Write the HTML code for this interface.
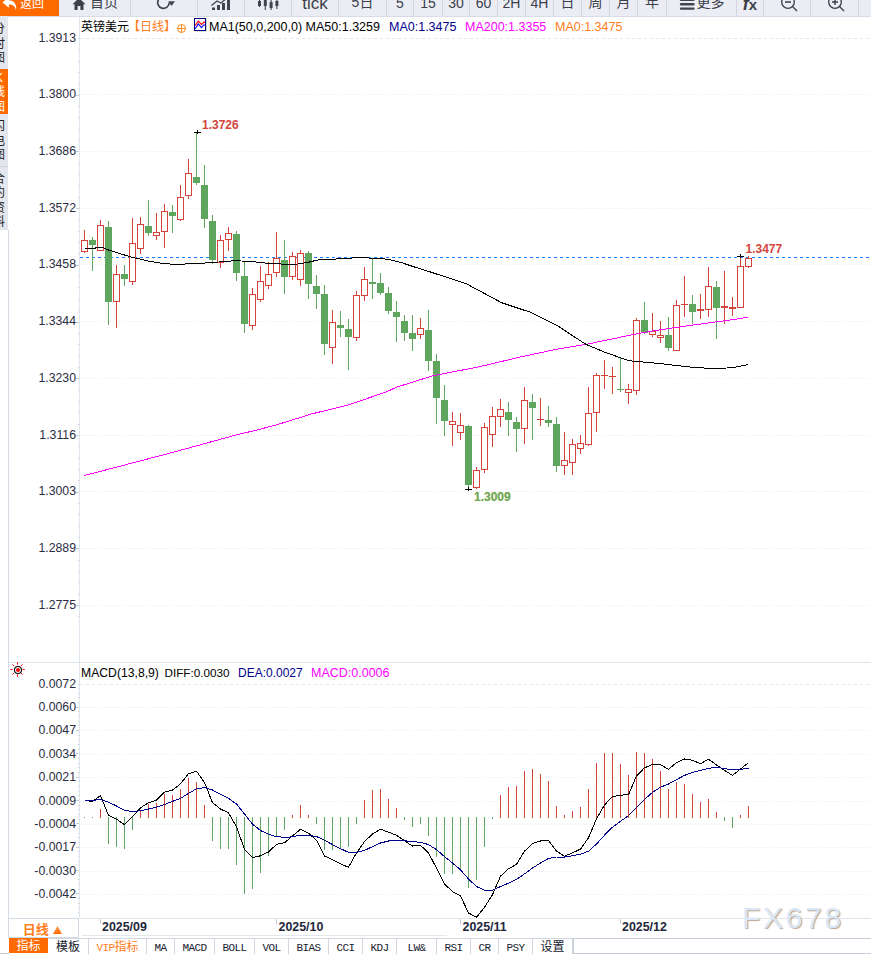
<!DOCTYPE html>
<html lang="zh-CN"><head><meta charset="utf-8"><title>英镑美元 日线</title>
<style>
html,body{margin:0;padding:0;background:#fff}
body{width:871px;height:954px;position:relative;overflow:hidden;font-family:"Liberation Sans","Noto Sans CJK SC",sans-serif;color:#222}
#tb{position:absolute;left:0;top:-14px;width:871px;height:31px;background:#ecedf4;border-bottom:1px solid #d9dce6;box-sizing:border-box}
.tbtn{position:absolute;top:0;height:30px;box-sizing:border-box;border-right:1px solid #d3d6e0;display:flex;align-items:center;justify-content:center;font-size:14px;color:#3a3f4a;white-space:nowrap}
.tbtn .ic{margin-right:4px;flex:none;position:relative;top:2.5px}
.tbtn .la{position:relative;top:1.5px}
.tbtn .big{font-size:17px;position:relative;top:3px}
.tbtn.back{background:#ff6a00;color:#fff;border-right:none;font-size:12px;justify-content:flex-start;padding-left:2px}
#side{position:absolute;left:0;top:16px;width:8.2px;height:214px;background:#e4e6ee;overflow:hidden}
#side div{position:absolute;left:-7px;width:12px;font-size:12px;line-height:14.5px;color:#222;text-align:center;word-break:break-all}
#sideline{position:absolute;left:8px;top:230px;width:1px;height:708px;background:#d5dbe4}
svg#ch{position:absolute;left:0;top:0}
.yl{position:absolute;left:0;width:76px;text-align:right;font-size:12.3px;line-height:14px;color:#2b2d42}
.ttl{position:absolute;white-space:nowrap;font-size:12.5px;line-height:16px;color:#000}
.date{position:absolute;top:920px;font-size:12.4px;line-height:14px;font-weight:bold;color:#23263a}
.pl{position:absolute;font-size:12px;line-height:14px;font-weight:bold}
#period{position:absolute;left:8px;top:918px;width:71px;height:20px;box-sizing:border-box;border:1px solid #d3dae4;font-size:13px;font-weight:bold;color:#ff7d1a;text-align:center;line-height:22px;padding-right:2px}
#tabs{position:absolute;left:0;top:938px;width:871px;height:17px}
.tab{position:absolute;top:0;height:17px;box-sizing:border-box;border-top:1px solid #cfd6e0;border-right:1px solid #cfd6e0;text-align:center;font-size:12px;line-height:16px;color:#16202e;font-family:"Liberation Serif","Noto Sans CJK SC",serif;white-space:nowrap}
.mono{font-family:"Liberation Mono",monospace;font-size:11px;letter-spacing:-0.6px}
#wm{position:absolute;left:742px;top:900px;font-size:30px;line-height:36px;letter-spacing:2.7px;color:#dae7f7;text-shadow:1px 1px 1px rgba(150,115,90,.65);white-space:nowrap}
</style></head><body>
<svg id="ch" width="871" height="954" viewBox="0 0 871 954" shape-rendering="crispEdges">
<line x1="80" x2="871" y1="38.5" y2="38.5" stroke="#e3e7ec" stroke-dasharray="3 3"/>
<line x1="80" x2="871" y1="94.5" y2="94.5" stroke="#e5eaf0" stroke-dasharray="1 2"/>
<line x1="80" x2="871" y1="151.5" y2="151.5" stroke="#e5eaf0" stroke-dasharray="1 2"/>
<line x1="80" x2="871" y1="208.5" y2="208.5" stroke="#e5eaf0" stroke-dasharray="1 2"/>
<line x1="80" x2="871" y1="264.5" y2="264.5" stroke="#e5eaf0" stroke-dasharray="1 2"/>
<line x1="80" x2="871" y1="321.5" y2="321.5" stroke="#e5eaf0" stroke-dasharray="1 2"/>
<line x1="80" x2="871" y1="378.5" y2="378.5" stroke="#e5eaf0" stroke-dasharray="1 2"/>
<line x1="80" x2="871" y1="435.5" y2="435.5" stroke="#e5eaf0" stroke-dasharray="1 2"/>
<line x1="80" x2="871" y1="491.5" y2="491.5" stroke="#e5eaf0" stroke-dasharray="1 2"/>
<line x1="80" x2="871" y1="548.5" y2="548.5" stroke="#e5eaf0" stroke-dasharray="1 2"/>
<line x1="80" x2="871" y1="605.5" y2="605.5" stroke="#e5eaf0" stroke-dasharray="1 2"/>
<line x1="80" x2="871" y1="684.5" y2="684.5" stroke="#e3e7ec" stroke-dasharray="3 3"/>
<line x1="80" x2="871" y1="707.5" y2="707.5" stroke="#e5eaf0" stroke-dasharray="1 2"/>
<line x1="80" x2="871" y1="730.5" y2="730.5" stroke="#e5eaf0" stroke-dasharray="1 2"/>
<line x1="80" x2="871" y1="754.5" y2="754.5" stroke="#e5eaf0" stroke-dasharray="1 2"/>
<line x1="80" x2="871" y1="777.5" y2="777.5" stroke="#e5eaf0" stroke-dasharray="1 2"/>
<line x1="80" x2="871" y1="801.5" y2="801.5" stroke="#e5eaf0" stroke-dasharray="1 2"/>
<line x1="80" x2="871" y1="824.5" y2="824.5" stroke="#e5eaf0" stroke-dasharray="1 2"/>
<line x1="80" x2="871" y1="847.5" y2="847.5" stroke="#e5eaf0" stroke-dasharray="1 2"/>
<line x1="80" x2="871" y1="871.5" y2="871.5" stroke="#e5eaf0" stroke-dasharray="1 2"/>
<line x1="80" x2="871" y1="894.5" y2="894.5" stroke="#e5eaf0" stroke-dasharray="1 2"/>
<line x1="79.5" x2="79.5" y1="16" y2="918" stroke="#dfe5ec"/>
<line x1="78" x2="79" y1="38.5" y2="38.5" stroke="#c3ceda"/>
<line x1="78" x2="79" y1="49.5" y2="49.5" stroke="#c3ceda"/>
<line x1="78" x2="79" y1="61.5" y2="61.5" stroke="#c3ceda"/>
<line x1="78" x2="79" y1="72.5" y2="72.5" stroke="#c3ceda"/>
<line x1="78" x2="79" y1="83.5" y2="83.5" stroke="#c3ceda"/>
<line x1="76" x2="79" y1="95.5" y2="95.5" stroke="#c3ceda"/>
<line x1="78" x2="79" y1="106.5" y2="106.5" stroke="#c3ceda"/>
<line x1="78" x2="79" y1="117.5" y2="117.5" stroke="#c3ceda"/>
<line x1="78" x2="79" y1="129.5" y2="129.5" stroke="#c3ceda"/>
<line x1="78" x2="79" y1="140.5" y2="140.5" stroke="#c3ceda"/>
<line x1="76" x2="79" y1="151.5" y2="151.5" stroke="#c3ceda"/>
<line x1="78" x2="79" y1="163.5" y2="163.5" stroke="#c3ceda"/>
<line x1="78" x2="79" y1="174.5" y2="174.5" stroke="#c3ceda"/>
<line x1="78" x2="79" y1="185.5" y2="185.5" stroke="#c3ceda"/>
<line x1="78" x2="79" y1="197.5" y2="197.5" stroke="#c3ceda"/>
<line x1="76" x2="79" y1="208.5" y2="208.5" stroke="#c3ceda"/>
<line x1="78" x2="79" y1="219.5" y2="219.5" stroke="#c3ceda"/>
<line x1="78" x2="79" y1="231.5" y2="231.5" stroke="#c3ceda"/>
<line x1="78" x2="79" y1="242.5" y2="242.5" stroke="#c3ceda"/>
<line x1="78" x2="79" y1="253.5" y2="253.5" stroke="#c3ceda"/>
<line x1="76" x2="79" y1="265.5" y2="265.5" stroke="#c3ceda"/>
<line x1="78" x2="79" y1="276.5" y2="276.5" stroke="#c3ceda"/>
<line x1="78" x2="79" y1="287.5" y2="287.5" stroke="#c3ceda"/>
<line x1="78" x2="79" y1="299.5" y2="299.5" stroke="#c3ceda"/>
<line x1="78" x2="79" y1="310.5" y2="310.5" stroke="#c3ceda"/>
<line x1="76" x2="79" y1="322.5" y2="322.5" stroke="#c3ceda"/>
<line x1="78" x2="79" y1="333.5" y2="333.5" stroke="#c3ceda"/>
<line x1="78" x2="79" y1="344.5" y2="344.5" stroke="#c3ceda"/>
<line x1="78" x2="79" y1="356.5" y2="356.5" stroke="#c3ceda"/>
<line x1="78" x2="79" y1="367.5" y2="367.5" stroke="#c3ceda"/>
<line x1="76" x2="79" y1="378.5" y2="378.5" stroke="#c3ceda"/>
<line x1="78" x2="79" y1="390.5" y2="390.5" stroke="#c3ceda"/>
<line x1="78" x2="79" y1="401.5" y2="401.5" stroke="#c3ceda"/>
<line x1="78" x2="79" y1="412.5" y2="412.5" stroke="#c3ceda"/>
<line x1="78" x2="79" y1="424.5" y2="424.5" stroke="#c3ceda"/>
<line x1="76" x2="79" y1="435.5" y2="435.5" stroke="#c3ceda"/>
<line x1="78" x2="79" y1="446.5" y2="446.5" stroke="#c3ceda"/>
<line x1="78" x2="79" y1="458.5" y2="458.5" stroke="#c3ceda"/>
<line x1="78" x2="79" y1="469.5" y2="469.5" stroke="#c3ceda"/>
<line x1="78" x2="79" y1="480.5" y2="480.5" stroke="#c3ceda"/>
<line x1="76" x2="79" y1="492.5" y2="492.5" stroke="#c3ceda"/>
<line x1="78" x2="79" y1="503.5" y2="503.5" stroke="#c3ceda"/>
<line x1="78" x2="79" y1="514.5" y2="514.5" stroke="#c3ceda"/>
<line x1="78" x2="79" y1="526.5" y2="526.5" stroke="#c3ceda"/>
<line x1="78" x2="79" y1="537.5" y2="537.5" stroke="#c3ceda"/>
<line x1="76" x2="79" y1="548.5" y2="548.5" stroke="#c3ceda"/>
<line x1="78" x2="79" y1="560.5" y2="560.5" stroke="#c3ceda"/>
<line x1="78" x2="79" y1="571.5" y2="571.5" stroke="#c3ceda"/>
<line x1="78" x2="79" y1="582.5" y2="582.5" stroke="#c3ceda"/>
<line x1="78" x2="79" y1="594.5" y2="594.5" stroke="#c3ceda"/>
<line x1="76" x2="79" y1="605.5" y2="605.5" stroke="#c3ceda"/>
<line x1="78" x2="79" y1="616.5" y2="616.5" stroke="#c3ceda"/>
<line x1="78" x2="79" y1="684.5" y2="684.5" stroke="#c3ceda"/>
<line x1="78" x2="79" y1="688.5" y2="688.5" stroke="#c3ceda"/>
<line x1="78" x2="79" y1="693.5" y2="693.5" stroke="#c3ceda"/>
<line x1="78" x2="79" y1="697.5" y2="697.5" stroke="#c3ceda"/>
<line x1="78" x2="79" y1="702.5" y2="702.5" stroke="#c3ceda"/>
<line x1="76" x2="79" y1="707.5" y2="707.5" stroke="#c3ceda"/>
<line x1="78" x2="79" y1="711.5" y2="711.5" stroke="#c3ceda"/>
<line x1="78" x2="79" y1="716.5" y2="716.5" stroke="#c3ceda"/>
<line x1="78" x2="79" y1="721.5" y2="721.5" stroke="#c3ceda"/>
<line x1="78" x2="79" y1="725.5" y2="725.5" stroke="#c3ceda"/>
<line x1="76" x2="79" y1="730.5" y2="730.5" stroke="#c3ceda"/>
<line x1="78" x2="79" y1="735.5" y2="735.5" stroke="#c3ceda"/>
<line x1="78" x2="79" y1="739.5" y2="739.5" stroke="#c3ceda"/>
<line x1="78" x2="79" y1="744.5" y2="744.5" stroke="#c3ceda"/>
<line x1="78" x2="79" y1="749.5" y2="749.5" stroke="#c3ceda"/>
<line x1="76" x2="79" y1="753.5" y2="753.5" stroke="#c3ceda"/>
<line x1="78" x2="79" y1="758.5" y2="758.5" stroke="#c3ceda"/>
<line x1="78" x2="79" y1="763.5" y2="763.5" stroke="#c3ceda"/>
<line x1="78" x2="79" y1="767.5" y2="767.5" stroke="#c3ceda"/>
<line x1="78" x2="79" y1="772.5" y2="772.5" stroke="#c3ceda"/>
<line x1="76" x2="79" y1="777.5" y2="777.5" stroke="#c3ceda"/>
<line x1="78" x2="79" y1="781.5" y2="781.5" stroke="#c3ceda"/>
<line x1="78" x2="79" y1="786.5" y2="786.5" stroke="#c3ceda"/>
<line x1="78" x2="79" y1="791.5" y2="791.5" stroke="#c3ceda"/>
<line x1="78" x2="79" y1="795.5" y2="795.5" stroke="#c3ceda"/>
<line x1="76" x2="79" y1="800.5" y2="800.5" stroke="#c3ceda"/>
<line x1="78" x2="79" y1="805.5" y2="805.5" stroke="#c3ceda"/>
<line x1="78" x2="79" y1="809.5" y2="809.5" stroke="#c3ceda"/>
<line x1="78" x2="79" y1="814.5" y2="814.5" stroke="#c3ceda"/>
<line x1="78" x2="79" y1="819.5" y2="819.5" stroke="#c3ceda"/>
<line x1="76" x2="79" y1="823.5" y2="823.5" stroke="#c3ceda"/>
<line x1="78" x2="79" y1="828.5" y2="828.5" stroke="#c3ceda"/>
<line x1="78" x2="79" y1="833.5" y2="833.5" stroke="#c3ceda"/>
<line x1="78" x2="79" y1="837.5" y2="837.5" stroke="#c3ceda"/>
<line x1="78" x2="79" y1="842.5" y2="842.5" stroke="#c3ceda"/>
<line x1="76" x2="79" y1="847.5" y2="847.5" stroke="#c3ceda"/>
<line x1="78" x2="79" y1="851.5" y2="851.5" stroke="#c3ceda"/>
<line x1="78" x2="79" y1="856.5" y2="856.5" stroke="#c3ceda"/>
<line x1="78" x2="79" y1="861.5" y2="861.5" stroke="#c3ceda"/>
<line x1="78" x2="79" y1="865.5" y2="865.5" stroke="#c3ceda"/>
<line x1="76" x2="79" y1="870.5" y2="870.5" stroke="#c3ceda"/>
<line x1="78" x2="79" y1="875.5" y2="875.5" stroke="#c3ceda"/>
<line x1="78" x2="79" y1="879.5" y2="879.5" stroke="#c3ceda"/>
<line x1="78" x2="79" y1="884.5" y2="884.5" stroke="#c3ceda"/>
<line x1="78" x2="79" y1="889.5" y2="889.5" stroke="#c3ceda"/>
<line x1="76" x2="79" y1="893.5" y2="893.5" stroke="#c3ceda"/>
<line x1="78" x2="79" y1="898.5" y2="898.5" stroke="#c3ceda"/>
<line x1="78" x2="79" y1="903.5" y2="903.5" stroke="#c3ceda"/>
<line x1="78" x2="79" y1="907.5" y2="907.5" stroke="#c3ceda"/>
<line x1="78" x2="79" y1="912.5" y2="912.5" stroke="#c3ceda"/>
<line x1="9" x2="871" y1="662.5" y2="662.5" stroke="#dfe5ec"/>
<line x1="80" x2="871" y1="918.5" y2="918.5" stroke="#dfe5ec"/>
<line x1="82" x2="447" y1="935.5" y2="935.5" stroke="#e3e8ef"/>
<line x1="100.5" x2="100.5" y1="919" y2="924" stroke="#c9d1db"/>
<line x1="276.5" x2="276.5" y1="919" y2="924" stroke="#c9d1db"/>
<line x1="460.5" x2="460.5" y1="919" y2="924" stroke="#c9d1db"/>
<line x1="620.5" x2="620.5" y1="919" y2="924" stroke="#c9d1db"/>
<line x1="80" x2="871" y1="257.5" y2="257.5" stroke="#1482ff" stroke-dasharray="3 3"/>
<rect x="84.0" y="230" width="1" height="10" fill="#d4443b"/>
<rect x="84.0" y="252" width="1" height="1" fill="#d4443b"/>
<rect x="81.5" y="240.5" width="6" height="11" fill="#fff" stroke="#d4443b"/>
<rect x="92.0" y="237" width="1" height="34" fill="#5ea65e"/>
<rect x="89" y="240" width="7" height="5" fill="#5ea65e"/>
<rect x="100.0" y="220" width="1" height="5" fill="#d4443b"/>
<rect x="97.5" y="225.5" width="6" height="25" fill="#fff" stroke="#d4443b"/>
<rect x="108.0" y="221" width="1" height="104" fill="#5ea65e"/>
<rect x="105" y="227" width="7" height="75" fill="#5ea65e"/>
<rect x="116.0" y="265" width="1" height="9" fill="#d4443b"/>
<rect x="116.0" y="302" width="1" height="26" fill="#d4443b"/>
<rect x="113.5" y="274.5" width="6" height="27" fill="#fff" stroke="#d4443b"/>
<rect x="124.0" y="265" width="1" height="21" fill="#5ea65e"/>
<rect x="121" y="274" width="7" height="5" fill="#5ea65e"/>
<rect x="132.0" y="218" width="1" height="25" fill="#d4443b"/>
<rect x="132.0" y="282" width="1" height="3" fill="#d4443b"/>
<rect x="129.5" y="243.5" width="6" height="38" fill="#fff" stroke="#d4443b"/>
<rect x="140.0" y="217" width="1" height="7" fill="#d4443b"/>
<rect x="140.0" y="249" width="1" height="5" fill="#d4443b"/>
<rect x="137.5" y="224.5" width="6" height="24" fill="#fff" stroke="#d4443b"/>
<rect x="148.0" y="200" width="1" height="36" fill="#5ea65e"/>
<rect x="145" y="226" width="7" height="7" fill="#5ea65e"/>
<rect x="156.0" y="213" width="1" height="19" fill="#d4443b"/>
<rect x="156.0" y="236" width="1" height="4" fill="#d4443b"/>
<rect x="153.5" y="232.5" width="6" height="3" fill="#fff" stroke="#d4443b"/>
<rect x="164.0" y="204" width="1" height="7" fill="#d4443b"/>
<rect x="164.0" y="232" width="1" height="16" fill="#d4443b"/>
<rect x="161.5" y="211.5" width="6" height="20" fill="#fff" stroke="#d4443b"/>
<rect x="172.0" y="205" width="1" height="28" fill="#5ea65e"/>
<rect x="169" y="212" width="7" height="4" fill="#5ea65e"/>
<rect x="180.0" y="185" width="1" height="12" fill="#d4443b"/>
<rect x="180.0" y="220" width="1" height="1" fill="#d4443b"/>
<rect x="177.5" y="197.5" width="6" height="22" fill="#fff" stroke="#d4443b"/>
<rect x="188.0" y="159" width="1" height="14" fill="#d4443b"/>
<rect x="188.0" y="196" width="1" height="3" fill="#d4443b"/>
<rect x="185.5" y="173.5" width="6" height="22" fill="#fff" stroke="#d4443b"/>
<rect x="196.0" y="132" width="1" height="53" fill="#5ea65e"/>
<rect x="193" y="177" width="7" height="6" fill="#5ea65e"/>
<rect x="204.0" y="165" width="1" height="63" fill="#5ea65e"/>
<rect x="201" y="185" width="7" height="34" fill="#5ea65e"/>
<rect x="212.0" y="215" width="1" height="49" fill="#5ea65e"/>
<rect x="209" y="221" width="7" height="39" fill="#5ea65e"/>
<rect x="220.0" y="235" width="1" height="5" fill="#d4443b"/>
<rect x="220.0" y="263" width="1" height="5" fill="#d4443b"/>
<rect x="217.5" y="240.5" width="6" height="22" fill="#fff" stroke="#d4443b"/>
<rect x="228.0" y="227" width="1" height="6" fill="#d4443b"/>
<rect x="228.0" y="240" width="1" height="11" fill="#d4443b"/>
<rect x="225.5" y="233.5" width="6" height="6" fill="#fff" stroke="#d4443b"/>
<rect x="236.0" y="231" width="1" height="50" fill="#5ea65e"/>
<rect x="233" y="234" width="7" height="39" fill="#5ea65e"/>
<rect x="244.0" y="262" width="1" height="71" fill="#5ea65e"/>
<rect x="241" y="276" width="7" height="48" fill="#5ea65e"/>
<rect x="252.0" y="288" width="1" height="6" fill="#d4443b"/>
<rect x="252.0" y="326" width="1" height="4" fill="#d4443b"/>
<rect x="249.5" y="294.5" width="6" height="31" fill="#fff" stroke="#d4443b"/>
<rect x="260.0" y="266" width="1" height="15" fill="#d4443b"/>
<rect x="260.0" y="300" width="1" height="2" fill="#d4443b"/>
<rect x="257.5" y="281.5" width="6" height="18" fill="#fff" stroke="#d4443b"/>
<rect x="268.0" y="262" width="1" height="12" fill="#d4443b"/>
<rect x="268.0" y="286" width="1" height="3" fill="#d4443b"/>
<rect x="265.5" y="274.5" width="6" height="11" fill="#fff" stroke="#d4443b"/>
<rect x="276.0" y="232" width="1" height="26" fill="#d4443b"/>
<rect x="276.0" y="273" width="1" height="4" fill="#d4443b"/>
<rect x="273.5" y="258.5" width="6" height="14" fill="#fff" stroke="#d4443b"/>
<rect x="284.0" y="240" width="1" height="54" fill="#5ea65e"/>
<rect x="281" y="260" width="7" height="17" fill="#5ea65e"/>
<rect x="292.0" y="252" width="1" height="4" fill="#d4443b"/>
<rect x="292.0" y="277" width="1" height="3" fill="#d4443b"/>
<rect x="289.5" y="256.5" width="6" height="20" fill="#fff" stroke="#d4443b"/>
<rect x="300.0" y="250" width="1" height="3" fill="#d4443b"/>
<rect x="300.0" y="280" width="1" height="6" fill="#d4443b"/>
<rect x="297.5" y="253.5" width="6" height="26" fill="#fff" stroke="#d4443b"/>
<rect x="308.0" y="251" width="1" height="48" fill="#5ea65e"/>
<rect x="305" y="253" width="7" height="31" fill="#5ea65e"/>
<rect x="316.0" y="275" width="1" height="34" fill="#5ea65e"/>
<rect x="313" y="286" width="7" height="8" fill="#5ea65e"/>
<rect x="324.0" y="285" width="1" height="70" fill="#5ea65e"/>
<rect x="321" y="294" width="7" height="50" fill="#5ea65e"/>
<rect x="332.0" y="310" width="1" height="12" fill="#d4443b"/>
<rect x="332.0" y="348" width="1" height="16" fill="#d4443b"/>
<rect x="329.5" y="322.5" width="6" height="25" fill="#fff" stroke="#d4443b"/>
<rect x="340.0" y="311" width="1" height="26" fill="#5ea65e"/>
<rect x="337" y="325" width="7" height="3" fill="#5ea65e"/>
<rect x="348.0" y="319" width="1" height="51" fill="#5ea65e"/>
<rect x="345" y="329" width="7" height="8" fill="#5ea65e"/>
<rect x="356.0" y="291" width="1" height="4" fill="#d4443b"/>
<rect x="356.0" y="338" width="1" height="3" fill="#d4443b"/>
<rect x="353.5" y="295.5" width="6" height="42" fill="#fff" stroke="#d4443b"/>
<rect x="364.0" y="267" width="1" height="12" fill="#d4443b"/>
<rect x="364.0" y="296" width="1" height="5" fill="#d4443b"/>
<rect x="361.5" y="279.5" width="6" height="16" fill="#fff" stroke="#d4443b"/>
<rect x="372.0" y="259" width="1" height="40" fill="#5ea65e"/>
<rect x="369" y="282" width="7" height="2" fill="#5ea65e"/>
<rect x="380.0" y="273" width="1" height="22" fill="#5ea65e"/>
<rect x="377" y="283" width="7" height="10" fill="#5ea65e"/>
<rect x="388.0" y="287" width="1" height="27" fill="#5ea65e"/>
<rect x="385" y="293" width="7" height="18" fill="#5ea65e"/>
<rect x="396.0" y="301" width="1" height="41" fill="#5ea65e"/>
<rect x="393" y="312" width="7" height="5" fill="#5ea65e"/>
<rect x="404.0" y="315" width="1" height="26" fill="#5ea65e"/>
<rect x="401" y="321" width="7" height="12" fill="#5ea65e"/>
<rect x="412.0" y="315" width="1" height="36" fill="#5ea65e"/>
<rect x="409" y="333" width="7" height="6" fill="#5ea65e"/>
<rect x="420.0" y="318" width="1" height="10" fill="#d4443b"/>
<rect x="420.0" y="335" width="1" height="4" fill="#d4443b"/>
<rect x="417.5" y="328.5" width="6" height="6" fill="#fff" stroke="#d4443b"/>
<rect x="428.0" y="310" width="1" height="61" fill="#5ea65e"/>
<rect x="425" y="330" width="7" height="31" fill="#5ea65e"/>
<rect x="436.0" y="354" width="1" height="70" fill="#5ea65e"/>
<rect x="433" y="361" width="7" height="37" fill="#5ea65e"/>
<rect x="444.0" y="385" width="1" height="51" fill="#5ea65e"/>
<rect x="441" y="400" width="7" height="21" fill="#5ea65e"/>
<rect x="452.0" y="412" width="1" height="9" fill="#d4443b"/>
<rect x="452.0" y="425" width="1" height="21" fill="#d4443b"/>
<rect x="449.5" y="421.5" width="6" height="3" fill="#fff" stroke="#d4443b"/>
<rect x="460.0" y="413" width="1" height="12" fill="#d4443b"/>
<rect x="460.0" y="433" width="1" height="7" fill="#d4443b"/>
<rect x="457.5" y="425.5" width="6" height="7" fill="#fff" stroke="#d4443b"/>
<rect x="468.0" y="425" width="1" height="65" fill="#5ea65e"/>
<rect x="465" y="426" width="7" height="59" fill="#5ea65e"/>
<rect x="476.0" y="467" width="1" height="3" fill="#d4443b"/>
<rect x="476.0" y="488" width="1" height="1" fill="#d4443b"/>
<rect x="473.5" y="470.5" width="6" height="17" fill="#fff" stroke="#d4443b"/>
<rect x="484.0" y="423" width="1" height="4" fill="#d4443b"/>
<rect x="484.0" y="470" width="1" height="3" fill="#d4443b"/>
<rect x="481.5" y="427.5" width="6" height="42" fill="#fff" stroke="#d4443b"/>
<rect x="492.0" y="407" width="1" height="9" fill="#d4443b"/>
<rect x="492.0" y="435" width="1" height="12" fill="#d4443b"/>
<rect x="489.5" y="416.5" width="6" height="18" fill="#fff" stroke="#d4443b"/>
<rect x="500.0" y="399" width="1" height="10" fill="#d4443b"/>
<rect x="500.0" y="417" width="1" height="10" fill="#d4443b"/>
<rect x="497.5" y="409.5" width="6" height="7" fill="#fff" stroke="#d4443b"/>
<rect x="508.0" y="402" width="1" height="34" fill="#5ea65e"/>
<rect x="505" y="412" width="7" height="8" fill="#5ea65e"/>
<rect x="516.0" y="417" width="1" height="35" fill="#5ea65e"/>
<rect x="513" y="422" width="7" height="7" fill="#5ea65e"/>
<rect x="524.0" y="387" width="1" height="13" fill="#d4443b"/>
<rect x="524.0" y="429" width="1" height="15" fill="#d4443b"/>
<rect x="521.5" y="400.5" width="6" height="28" fill="#fff" stroke="#d4443b"/>
<rect x="532.0" y="394" width="1" height="46" fill="#5ea65e"/>
<rect x="529" y="402" width="7" height="6" fill="#5ea65e"/>
<rect x="540.0" y="398" width="1" height="21" fill="#d4443b"/>
<rect x="540.0" y="420" width="1" height="6" fill="#d4443b"/>
<rect x="537" y="419" width="7" height="1" fill="#d4443b"/>
<rect x="548.0" y="406" width="1" height="21" fill="#5ea65e"/>
<rect x="545" y="420" width="7" height="3" fill="#5ea65e"/>
<rect x="556.0" y="417" width="1" height="55" fill="#5ea65e"/>
<rect x="553" y="424" width="7" height="42" fill="#5ea65e"/>
<rect x="564.0" y="432" width="1" height="28" fill="#d4443b"/>
<rect x="564.0" y="466" width="1" height="9" fill="#d4443b"/>
<rect x="561.5" y="460.5" width="6" height="5" fill="#fff" stroke="#d4443b"/>
<rect x="572.0" y="439" width="1" height="5" fill="#d4443b"/>
<rect x="572.0" y="463" width="1" height="12" fill="#d4443b"/>
<rect x="569.5" y="444.5" width="6" height="18" fill="#fff" stroke="#d4443b"/>
<rect x="580.0" y="435" width="1" height="8" fill="#d4443b"/>
<rect x="580.0" y="449" width="1" height="5" fill="#d4443b"/>
<rect x="577.5" y="443.5" width="6" height="5" fill="#fff" stroke="#d4443b"/>
<rect x="588.0" y="387" width="1" height="26" fill="#d4443b"/>
<rect x="588.0" y="445" width="1" height="1" fill="#d4443b"/>
<rect x="585.5" y="413.5" width="6" height="31" fill="#fff" stroke="#d4443b"/>
<rect x="596.0" y="373" width="1" height="2" fill="#d4443b"/>
<rect x="596.0" y="413" width="1" height="19" fill="#d4443b"/>
<rect x="593.5" y="375.5" width="6" height="37" fill="#fff" stroke="#d4443b"/>
<rect x="604.0" y="360" width="1" height="15" fill="#d4443b"/>
<rect x="604.0" y="376" width="1" height="13" fill="#d4443b"/>
<rect x="601" y="375" width="7" height="1" fill="#d4443b"/>
<rect x="612.0" y="367" width="1" height="9" fill="#d4443b"/>
<rect x="612.0" y="377" width="1" height="17" fill="#d4443b"/>
<rect x="609" y="376" width="7" height="1" fill="#d4443b"/>
<rect x="620.0" y="358" width="1" height="34" fill="#5ea65e"/>
<rect x="617" y="389" width="7" height="1" fill="#5ea65e"/>
<rect x="628.0" y="384" width="1" height="5" fill="#d4443b"/>
<rect x="628.0" y="393" width="1" height="11" fill="#d4443b"/>
<rect x="625.5" y="389.5" width="6" height="3" fill="#fff" stroke="#d4443b"/>
<rect x="636.0" y="318" width="1" height="2" fill="#d4443b"/>
<rect x="636.0" y="391" width="1" height="4" fill="#d4443b"/>
<rect x="633.5" y="320.5" width="6" height="70" fill="#fff" stroke="#d4443b"/>
<rect x="644.0" y="302" width="1" height="32" fill="#5ea65e"/>
<rect x="641" y="320" width="7" height="13" fill="#5ea65e"/>
<rect x="652.0" y="313" width="1" height="18" fill="#d4443b"/>
<rect x="652.0" y="335" width="1" height="2" fill="#d4443b"/>
<rect x="649.5" y="331.5" width="6" height="3" fill="#fff" stroke="#d4443b"/>
<rect x="660.0" y="321" width="1" height="14" fill="#d4443b"/>
<rect x="660.0" y="338" width="1" height="5" fill="#d4443b"/>
<rect x="657.5" y="335.5" width="6" height="2" fill="#fff" stroke="#d4443b"/>
<rect x="668.0" y="317" width="1" height="34" fill="#5ea65e"/>
<rect x="665" y="335" width="7" height="13" fill="#5ea65e"/>
<rect x="676.0" y="300" width="1" height="5" fill="#d4443b"/>
<rect x="673.5" y="305.5" width="6" height="45" fill="#fff" stroke="#d4443b"/>
<rect x="684.0" y="276" width="1" height="28" fill="#d4443b"/>
<rect x="684.0" y="305" width="1" height="12" fill="#d4443b"/>
<rect x="681" y="304" width="7" height="1" fill="#d4443b"/>
<rect x="692.0" y="295" width="1" height="29" fill="#5ea65e"/>
<rect x="689" y="304" width="7" height="8" fill="#5ea65e"/>
<rect x="700.0" y="294" width="1" height="15" fill="#d4443b"/>
<rect x="700.0" y="311" width="1" height="8" fill="#d4443b"/>
<rect x="697" y="309" width="7" height="2" fill="#d4443b"/>
<rect x="708.0" y="267" width="1" height="19" fill="#d4443b"/>
<rect x="708.0" y="310" width="1" height="7" fill="#d4443b"/>
<rect x="705.5" y="286.5" width="6" height="23" fill="#fff" stroke="#d4443b"/>
<rect x="716.0" y="281" width="1" height="58" fill="#5ea65e"/>
<rect x="713" y="287" width="7" height="21" fill="#5ea65e"/>
<rect x="724.0" y="271" width="1" height="35" fill="#d4443b"/>
<rect x="724.0" y="308" width="1" height="16" fill="#d4443b"/>
<rect x="721" y="306" width="7" height="2" fill="#d4443b"/>
<rect x="732.0" y="297" width="1" height="10" fill="#d4443b"/>
<rect x="732.0" y="309" width="1" height="7" fill="#d4443b"/>
<rect x="729" y="307" width="7" height="2" fill="#d4443b"/>
<rect x="740.0" y="256" width="1" height="10" fill="#d4443b"/>
<rect x="737.5" y="266.5" width="6" height="41" fill="#fff" stroke="#d4443b"/>
<rect x="748.0" y="256" width="1" height="2" fill="#d4443b"/>
<rect x="748.0" y="267" width="1" height="1" fill="#d4443b"/>
<rect x="745.5" y="258.5" width="6" height="8" fill="#fff" stroke="#d4443b"/>
<polyline points="84.5,475.5 173.1,452.3 236.0,435.0 256.0,430.2 276.2,425.0 311.4,414.0 349.0,404.8 386.8,391.7 396.0,387.4 416.0,381.0 433.7,375.6 479.0,366.8 521.7,356.7 556.0,349.4 586.0,344.4 631.4,334.9 650.0,331.4 681.7,326.6 736.0,319.2 747.8,317.3" fill="none" stroke="#ff00ff" stroke-width="1" shape-rendering="crispEdges"/>
<polyline points="84.5,248.6 92.5,248.6 96.5,247.8 100.5,247.2 104.5,248.2 108.5,250.0 116.5,252.6 124.5,255.0 132.5,257.4 140.5,259.2 148.5,261.1 156.5,262.5 164.5,263.6 172.5,264.2 180.5,264.3 188.5,263.8 207.6,262.9 218.6,262.0 235.1,260.7 251.6,261.5 268.2,263.4 284.7,264.2 298.5,264.0 309.5,262.0 316.0,260.4 322.0,259.2 351.0,258.8 353.0,257.6 368.0,257.6 370.0,258.6 384.0,258.8 390.0,259.8 402.0,262.8 416.0,267.5 427.4,271.0 466.4,283.8 501.6,302.7 531.7,312.7 556.9,325.3 576.0,337.9 586.0,344.4 606.0,352.7 629.0,360.7 656.5,363.2 697.0,367.8 710.8,368.2 727.0,368.0 736.0,367.0 747.8,364.7" fill="none" stroke="#000" stroke-width="1" shape-rendering="crispEdges"/>
<path d="M194 132.5H201M197.5 130V134" stroke="#000" fill="none"/>
<path d="M465 489.5H472M468.5 487V491" stroke="#000" fill="none"/>
<path d="M737 256.5H744M740.5 254V258" stroke="#000" fill="none"/>
<rect x="84.0" y="817" width="1" height="1" fill="#5ea65e"/>
<rect x="92.0" y="817" width="1" height="1" fill="#5ea65e"/>
<rect x="100.0" y="809" width="1" height="9" fill="#d4443b"/>
<rect x="108.0" y="817" width="1" height="27" fill="#5ea65e"/>
<rect x="116.0" y="817" width="1" height="30" fill="#5ea65e"/>
<rect x="124.0" y="817" width="1" height="32" fill="#5ea65e"/>
<rect x="132.0" y="817" width="1" height="13" fill="#5ea65e"/>
<rect x="140.0" y="810" width="1" height="8" fill="#d4443b"/>
<rect x="148.0" y="804" width="1" height="14" fill="#d4443b"/>
<rect x="156.0" y="803" width="1" height="15" fill="#d4443b"/>
<rect x="164.0" y="794" width="1" height="24" fill="#d4443b"/>
<rect x="172.0" y="795" width="1" height="23" fill="#d4443b"/>
<rect x="180.0" y="789" width="1" height="29" fill="#d4443b"/>
<rect x="188.0" y="778" width="1" height="40" fill="#d4443b"/>
<rect x="196.0" y="782" width="1" height="36" fill="#d4443b"/>
<rect x="204.0" y="805" width="1" height="13" fill="#d4443b"/>
<rect x="212.0" y="817" width="1" height="24" fill="#5ea65e"/>
<rect x="220.0" y="817" width="1" height="32" fill="#5ea65e"/>
<rect x="228.0" y="817" width="1" height="32" fill="#5ea65e"/>
<rect x="236.0" y="817" width="1" height="48" fill="#5ea65e"/>
<rect x="244.0" y="817" width="1" height="77" fill="#5ea65e"/>
<rect x="252.0" y="817" width="1" height="72" fill="#5ea65e"/>
<rect x="260.0" y="817" width="1" height="56" fill="#5ea65e"/>
<rect x="268.0" y="817" width="1" height="39" fill="#5ea65e"/>
<rect x="276.0" y="817" width="1" height="19" fill="#5ea65e"/>
<rect x="284.0" y="817" width="1" height="13" fill="#5ea65e"/>
<rect x="292.0" y="815" width="1" height="3" fill="#d4443b"/>
<rect x="300.0" y="805" width="1" height="13" fill="#d4443b"/>
<rect x="308.0" y="815" width="1" height="3" fill="#d4443b"/>
<rect x="316.0" y="817" width="1" height="7" fill="#5ea65e"/>
<rect x="324.0" y="817" width="1" height="33" fill="#5ea65e"/>
<rect x="332.0" y="817" width="1" height="33" fill="#5ea65e"/>
<rect x="340.0" y="817" width="1" height="32" fill="#5ea65e"/>
<rect x="348.0" y="817" width="1" height="30" fill="#5ea65e"/>
<rect x="356.0" y="817" width="1" height="7" fill="#5ea65e"/>
<rect x="364.0" y="800" width="1" height="18" fill="#d4443b"/>
<rect x="372.0" y="790" width="1" height="28" fill="#d4443b"/>
<rect x="380.0" y="789" width="1" height="29" fill="#d4443b"/>
<rect x="388.0" y="799" width="1" height="19" fill="#d4443b"/>
<rect x="396.0" y="808" width="1" height="10" fill="#d4443b"/>
<rect x="404.0" y="817" width="1" height="3" fill="#5ea65e"/>
<rect x="412.0" y="817" width="1" height="10" fill="#5ea65e"/>
<rect x="420.0" y="817" width="1" height="7" fill="#5ea65e"/>
<rect x="428.0" y="817" width="1" height="19" fill="#5ea65e"/>
<rect x="436.0" y="817" width="1" height="40" fill="#5ea65e"/>
<rect x="444.0" y="817" width="1" height="57" fill="#5ea65e"/>
<rect x="452.0" y="817" width="1" height="57" fill="#5ea65e"/>
<rect x="460.0" y="817" width="1" height="53" fill="#5ea65e"/>
<rect x="468.0" y="817" width="1" height="71" fill="#5ea65e"/>
<rect x="476.0" y="817" width="1" height="63" fill="#5ea65e"/>
<rect x="484.0" y="817" width="1" height="30" fill="#5ea65e"/>
<rect x="492.0" y="817" width="1" height="2" fill="#5ea65e"/>
<rect x="500.0" y="795" width="1" height="23" fill="#d4443b"/>
<rect x="508.0" y="787" width="1" height="31" fill="#d4443b"/>
<rect x="516.0" y="786" width="1" height="32" fill="#d4443b"/>
<rect x="524.0" y="771" width="1" height="47" fill="#d4443b"/>
<rect x="532.0" y="769" width="1" height="49" fill="#d4443b"/>
<rect x="540.0" y="774" width="1" height="44" fill="#d4443b"/>
<rect x="548.0" y="781" width="1" height="37" fill="#d4443b"/>
<rect x="556.0" y="806" width="1" height="12" fill="#d4443b"/>
<rect x="564.0" y="815" width="1" height="3" fill="#d4443b"/>
<rect x="572.0" y="811" width="1" height="7" fill="#d4443b"/>
<rect x="580.0" y="807" width="1" height="11" fill="#d4443b"/>
<rect x="588.0" y="789" width="1" height="29" fill="#d4443b"/>
<rect x="596.0" y="763" width="1" height="55" fill="#d4443b"/>
<rect x="604.0" y="753" width="1" height="65" fill="#d4443b"/>
<rect x="612.0" y="753" width="1" height="65" fill="#d4443b"/>
<rect x="620.0" y="764" width="1" height="54" fill="#d4443b"/>
<rect x="628.0" y="775" width="1" height="43" fill="#d4443b"/>
<rect x="636.0" y="752" width="1" height="66" fill="#d4443b"/>
<rect x="644.0" y="753" width="1" height="65" fill="#d4443b"/>
<rect x="652.0" y="759" width="1" height="59" fill="#d4443b"/>
<rect x="660.0" y="771" width="1" height="47" fill="#d4443b"/>
<rect x="668.0" y="789" width="1" height="29" fill="#d4443b"/>
<rect x="676.0" y="782" width="1" height="36" fill="#d4443b"/>
<rect x="684.0" y="784" width="1" height="34" fill="#d4443b"/>
<rect x="692.0" y="794" width="1" height="24" fill="#d4443b"/>
<rect x="700.0" y="802" width="1" height="16" fill="#d4443b"/>
<rect x="708.0" y="799" width="1" height="19" fill="#d4443b"/>
<rect x="716.0" y="812" width="1" height="6" fill="#d4443b"/>
<rect x="724.0" y="817" width="1" height="4" fill="#5ea65e"/>
<rect x="732.0" y="817" width="1" height="11" fill="#5ea65e"/>
<rect x="740.0" y="815" width="1" height="3" fill="#d4443b"/>
<rect x="748.0" y="806" width="1" height="12" fill="#d4443b"/>
<polyline points="84.5,800.6 92.5,801.4 100.5,795.6 108.5,815.3 116.5,819.1 124.5,824.7 132.5,816.6 140.5,807.8 148.5,802.7 156.5,800.2 164.5,792.1 172.5,790.1 180.5,783.8 188.5,773.7 196.5,771.1 204.5,782.5 212.5,802.7 220.5,809.0 228.5,812.8 236.5,826.7 244.5,849.4 252.5,857.5 260.5,855.8 268.5,852.0 276.5,844.4 284.5,842.8 292.5,836.0 300.5,829.2 308.5,833.2 316.5,840.3 324.5,856.0 332.5,859.7 340.5,863.8 348.5,867.3 356.5,852.9 364.5,841.6 372.5,834.0 380.5,829.2 388.5,832.2 396.5,835.2 404.5,840.8 412.5,846.1 420.5,845.3 428.5,852.9 436.5,868.1 444.5,884.0 452.5,891.6 460.5,895.9 468.5,913.0 476.5,917.3 484.5,907.2 492.5,894.6 500.5,876.2 508.5,868.8 516.5,864.3 524.5,851.2 532.5,843.6 540.5,841.0 548.5,840.3 556.5,851.2 564.5,856.2 572.5,852.9 580.5,849.1 588.5,837.8 596.5,818.8 604.5,804.9 612.5,796.6 620.5,795.1 628.5,794.8 636.5,775.9 644.5,767.8 652.5,764.5 660.5,764.8 668.5,769.3 676.5,762.7 684.5,759.0 692.5,760.2 700.5,763.8 708.5,759.2 716.5,765.0 724.5,770.3 732.5,775.4 740.5,769.0 748.5,762.7" fill="none" stroke="#000" stroke-width="1" shape-rendering="crispEdges"/>
<polyline points="84.5,800.6 92.5,800.6 100.5,799.4 108.5,802.2 116.5,806.0 124.5,810.3 132.5,811.6 140.5,810.8 148.5,809.0 156.5,807.3 164.5,804.5 172.5,801.4 180.5,798.4 188.5,793.4 196.5,788.8 204.5,787.6 212.5,790.0 220.5,794.4 228.5,798.4 236.5,804.0 244.5,814.0 252.5,824.2 260.5,830.5 268.5,834.3 276.5,836.6 284.5,837.4 292.5,836.8 300.5,835.2 308.5,835.2 316.5,836.5 324.5,840.3 332.5,844.6 340.5,848.6 348.5,852.4 356.5,852.4 364.5,850.4 372.5,846.6 380.5,843.0 388.5,841.0 396.5,840.5 404.5,840.8 412.5,841.6 420.5,842.3 428.5,844.6 436.5,849.6 444.5,856.7 452.5,863.0 460.5,869.8 468.5,879.0 476.5,886.5 484.5,890.3 492.5,890.3 500.5,886.5 508.5,883.2 516.5,879.4 524.5,873.9 532.5,868.0 540.5,863.0 548.5,858.5 556.5,857.0 564.5,857.0 572.5,855.7 580.5,854.2 588.5,851.2 596.5,844.0 604.5,835.2 612.5,827.2 620.5,821.3 628.5,815.5 636.5,807.5 644.5,799.4 652.5,792.3 660.5,787.2 668.5,784.0 676.5,779.7 684.5,775.4 692.5,772.3 700.5,770.3 708.5,768.3 716.5,767.3 724.5,768.6 732.5,769.8 740.5,769.3 748.5,768.3" fill="none" stroke="#00008b" stroke-width="1" shape-rendering="crispEdges"/>
<g shape-rendering="geometricPrecision"><circle cx="18" cy="670" r="3.5" fill="#fff" stroke="#000" stroke-width="1.1"/>
<circle cx="18" cy="670" r="2" fill="#ff0000"/>
<line x1="22.50" y1="669.50" x2="24.70" y2="669.50" stroke="#ff0000" stroke-width="1"/>
<line x1="21.04" y1="673.04" x2="22.59" y2="674.59" stroke="#ff0000" stroke-width="1"/>
<line x1="17.50" y1="674.50" x2="17.50" y2="676.70" stroke="#ff0000" stroke-width="1"/>
<line x1="13.96" y1="673.04" x2="12.41" y2="674.59" stroke="#ff0000" stroke-width="1"/>
<line x1="12.50" y1="669.50" x2="10.30" y2="669.50" stroke="#ff0000" stroke-width="1"/>
<line x1="13.96" y1="665.96" x2="12.41" y2="664.41" stroke="#ff0000" stroke-width="1"/>
<line x1="17.50" y1="664.50" x2="17.50" y2="662.30" stroke="#ff0000" stroke-width="1"/>
<line x1="21.04" y1="665.96" x2="22.59" y2="664.41" stroke="#ff0000" stroke-width="1"/>
</g>
</svg>
<div class="yl" style="top:31px">1.3913</div>
<div class="yl" style="top:87px">1.3800</div>
<div class="yl" style="top:144px">1.3686</div>
<div class="yl" style="top:201px">1.3572</div>
<div class="yl" style="top:257px">1.3458</div>
<div class="yl" style="top:314px">1.3344</div>
<div class="yl" style="top:371px">1.3230</div>
<div class="yl" style="top:428px">1.3116</div>
<div class="yl" style="top:484px">1.3003</div>
<div class="yl" style="top:541px">1.2889</div>
<div class="yl" style="top:598px">1.2775</div>
<div class="yl" style="top:677px">0.0072</div>
<div class="yl" style="top:700px">0.0060</div>
<div class="yl" style="top:723px">0.0047</div>
<div class="yl" style="top:747px">0.0034</div>
<div class="yl" style="top:770px">0.0021</div>
<div class="yl" style="top:794px">0.0009</div>
<div class="yl" style="top:817px">-0.0004</div>
<div class="yl" style="top:840px">-0.0017</div>
<div class="yl" style="top:864px">-0.0030</div>
<div class="yl" style="top:887px">-0.0042</div>
<div class="ttl" style="left:81px;top:19px"><span style="font-size:12px">英镑美元</span><span style="color:#ff7d1a;font-size:12px;margin-left:-1px">【日线】</span></div>
<svg style="position:absolute;left:177px;top:24px" width="9" height="9" viewBox="0 0 9 9"><circle cx="4.5" cy="4.5" r="4" fill="none" stroke="#ff8a20" stroke-width="1"/><path d="M.5 4.5H8.5M4.5 .5V8.5" stroke="#ff8a20" stroke-width="1"/></svg>
<svg style="position:absolute;left:194px;top:18px" width="13" height="14" viewBox="0 0 13 14"><rect x="1" y="1" width="11.6" height="12.4" fill="#b8b8b0"/><rect x=".5" y=".5" width="11" height="12" fill="#fff" stroke="#000080" stroke-width="1"/><path d="M1.2 10.8L4.3 5.9L7.5 9.6L9.6 7H11" fill="none" stroke="#0000ff" stroke-width="1.1"/><path d="M1.2 7.5L4.3 3.1L7.5 6.5L10.1 4.1H11" fill="none" stroke="#ff0000" stroke-width="1.1"/></svg>
<div class="ttl" style="left:209px;top:19px">MA1(50,0,200,0) MA50:1.3259</div>
<div class="ttl" style="left:389px;top:19px;color:#00008b">MA0:1.3475</div>
<div class="ttl" style="left:465px;top:19px;color:#ff00ff">MA200:1.3355</div>
<div class="ttl" style="left:555px;top:19px;color:#ff7d1a">MA0:1.3475</div>
<div class="ttl" style="left:81px;top:665px;font-size:12.2px">MACD(13,8,9)</div>
<div class="ttl" style="left:164.5px;top:665px;font-size:11.7px">DIFF:0.0030</div>
<div class="ttl" style="left:238px;top:665px;color:#00008b;font-size:12px">DEA:0.0027</div>
<div class="ttl" style="left:311px;top:665px;color:#ff00ff">MACD:0.0006</div>
<div class="pl" style="left:202px;top:118px;color:#d4443b">1.3726</div>
<div class="pl" style="left:474px;top:490px;color:#6aa864;text-shadow:0 0 1px #d8c870">1.3009</div>
<div class="pl" style="left:745.5px;top:242px;color:#d4443b">1.3477</div>
<div class="date" style="left:102px">2025/09</div>
<div class="date" style="left:278.5px">2025/10</div>
<div class="date" style="left:462.5px">2025/11</div>
<div class="date" style="left:622px">2025/12</div>
<div id="wm">FX678</div>
<div id="tb"><div class="tbtn back" style="left:0;width:59px"><svg class="ic" width="16" height="13" viewBox="0 0 14 12" style="margin-right:2px"><path d="M6 0L0 5L6 10V7C9.5 7 11.5 8.5 12.5 12C13.5 6.5 10.5 3.2 6 3Z" fill="#fff"/></svg><span style="position:relative;top:1px">返回</span></div><div class="tbtn" style="left:60px;width:71px"><svg class="ic" width="14" height="14" viewBox="0 0 14 14"><path d="M7 1L0.5 7.2H2.5V13H5.6V9H8.4V13H11.5V7.2H13.5Z" fill="#3a3f4a"/></svg><span>首页</span></div><div class="tbtn" style="left:131px;width:67px"></div><div class="tbtn" style="left:198px;width:47px"></div><div class="tbtn" style="left:245px;width:47px"></div><div class="tbtn" style="left:292px;width:47px"><span class="big">tick</span></div><div class="tbtn" style="left:339px;width:48px"><span>5日</span></div><div class="tbtn" style="left:387px;width:27px"><span class="la">5</span></div><div class="tbtn" style="left:414px;width:29px"><span class="la">15</span></div><div class="tbtn" style="left:443px;width:27px"><span class="la">30</span></div><div class="tbtn" style="left:470px;width:28px"><span class="la">60</span></div><div class="tbtn" style="left:498px;width:28px"><span class="la">2H</span></div><div class="tbtn" style="left:526px;width:28px"><span class="la">4H</span></div><div class="tbtn" style="left:554px;width:28px"><span>日</span></div><div class="tbtn" style="left:582px;width:28px"><span>周</span></div><div class="tbtn" style="left:610px;width:28px"><span>月</span></div><div class="tbtn" style="left:638px;width:29px"><span>年</span></div><div class="tbtn" style="left:667px;width:70px"><span style="margin-left:18px">更多</span></div><div class="tbtn" style="left:737px;width:27px"><span class="la" style="font-weight:bold;font-style:italic;font-size:18px;top:3px">f</span><span class="la" style="font-weight:bold;font-size:15px;top:3px">x</span></div><div class="tbtn" style="left:764px;width:47px"><svg class="ic" style="margin-left:7px;top:2px" width="18" height="18" viewBox="0 0 18 18"><circle cx="8" cy="8" r="6.3" fill="none" stroke="#3a3f4a" stroke-width="1.3"/><path d="M12.5 12.5L17 17M5 8H11" stroke="#3a3f4a" stroke-width="1.4"/></svg></div><div class="tbtn" style="left:811px;width:48px"><svg class="ic" style="margin-left:7px;top:2px" width="18" height="18" viewBox="0 0 18 18"><circle cx="8" cy="8" r="6.3" fill="none" stroke="#3a3f4a" stroke-width="1.3"/><path d="M12.5 12.5L17 17M5 8H11M8 5V11" stroke="#3a3f4a" stroke-width="1.4"/></svg></div><div class="tbtn" style="left:859px;width:41px"></div></div>
<svg style="position:absolute;left:0;top:0" width="871" height="17" viewBox="0 0 871 17">
<path d="M169.3 2.5A5.8 5.8 0 1 1 167.9 -1.2" fill="none" stroke="#3e4450" stroke-width="1.7"/><path d="M168.3 1.2H175L171.6 6Z" fill="#3e4450"/>
<path d="M212 10V7.5H215V10ZM217 10V5H220V10ZM222 10V3H225V10ZM227 10V0H230V10Z" fill="#3e4450"/><path d="M211.5 5.5L217 1L221 3L228 -3" fill="none" stroke="#3e4450" stroke-width="1.3"/>
<path d="M681 -0.2H693.5M681 4.2H693.5M681 8.6H693.5" stroke="#3e4450" stroke-width="2.4" stroke-linecap="round" fill="none"/>
<path d="M259.5 -3V7M265.3 -3V10M271.1 -3V10M276.9 -3V9" stroke="#3e4450" stroke-width="1.1" fill="none"/><path d="M258 1H261V6H258ZM263.8 -2H266.8V6H263.8ZM269.6 2H272.6V8H269.6ZM275.4 1H278.4V6H275.4Z" fill="#3e4450"/>
</svg>
<div id="side">
<div style="top:52.5px;height:45.5px;background:#ff6a00;left:0;width:9px"></div>
<div style="top:6px">分时图</div>
<div style="top:54.5px;color:#fff">K线图</div>
<div style="top:103px">闪电图</div>
<div style="top:150px;height:1px;left:0;width:9px;background:#cfd3dc"></div>
<div style="top:155.5px">合约资料</div>
</div>
<div id="sideline"></div>
<div id="period">日线<svg width="9" height="8" viewBox="0 0 9 8" style="margin-left:4.5px;position:relative;top:-0.5px"><defs><linearGradient id="tg" x1="0" y1="0" x2="0" y2="1"><stop offset="0" stop-color="#ffa050"/><stop offset="1" stop-color="#ff6a00"/></linearGradient></defs><path d="M4.5 0L9 8H0Z" fill="url(#tg)"/></svg></div>
<div id="tabs">
<div class="tab" style="left:9px;width:39px;height:14.5px;line-height:17px;border:none;background:#ff6a00;color:#fff">指标</div>
<div class="tab" style="left:48px;width:41px">模板</div>
<div class="tab" style="left:89px;width:58px;color:#ff7d1a"><span class="mono">VIP</span>指标</div>
<div class="tab" style="left:147px;width:28px"><span class="mono">MA</span></div><div class="tab" style="left:175px;width:40px"><span class="mono">MACD</span></div><div class="tab" style="left:215px;width:40px"><span class="mono">BOLL</span></div><div class="tab" style="left:255px;width:34px"><span class="mono">VOL</span></div><div class="tab" style="left:289px;width:40px"><span class="mono">BIAS</span></div><div class="tab" style="left:329px;width:34px"><span class="mono">CCI</span></div><div class="tab" style="left:363px;width:34px"><span class="mono">KDJ</span></div><div class="tab" style="left:397px;width:40px"><span class="mono">LW&amp;</span></div><div class="tab" style="left:437px;width:34px"><span class="mono">RSI</span></div><div class="tab" style="left:471px;width:28px"><span class="mono">CR</span></div><div class="tab" style="left:499px;width:34px"><span class="mono">PSY</span></div>
<div class="tab" style="left:533px;width:40px">设置</div>
<div style="position:absolute;left:573px;top:0px;width:300px;height:16px;box-sizing:border-box;border:1px solid #c5cdd9"></div>
<div style="position:absolute;left:0;top:15px;width:9px;height:1px;background:#c8c8c8"></div>
</div>
</body></html>
